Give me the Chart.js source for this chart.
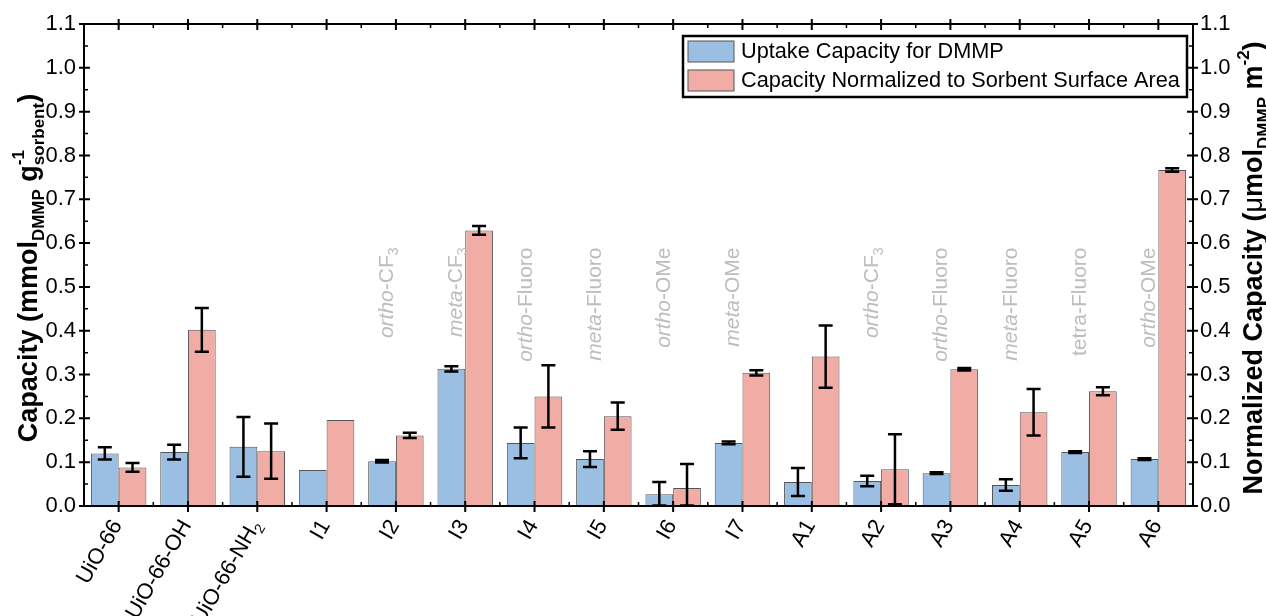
<!DOCTYPE html>
<html>
<head>
<meta charset="utf-8">
<script src="https://cdn.jsdelivr.net/npm/chart.js@4/dist/chart.umd.min.js"></script>
<style>
  body { margin: 0; background: #fff; }
</style>
</head>
<body>
<canvas id="chart" width="1266" height="616"></canvas>
<script>
// sorbents on the x axis
const categories = ['UiO-66', 'UiO-66-OH', 'UiO-66-NH2', 'I1', 'I2', 'I3', 'I4', 'I5', 'I6', 'I7', 'A1', 'A2', 'A3', 'A4', 'A5', 'A6'];

// mmol DMMP / g sorbent (left axis)
const uptake =    [0.120, 0.123, 0.135, 0.082, 0.102, 0.313, 0.144, 0.107, 0.027, 0.144, 0.055, 0.057, 0.075, 0.048, 0.123, 0.107];
const uptakeErr = [0.014, 0.017, 0.068, 0,     0.003, 0.006, 0.035, 0.018, 0.028, 0.003, 0.032, 0.012, 0.002, 0.013, 0.002, 0.002];

// umol DMMP / m2 (right axis)
const normalized =    [0.088, 0.402, 0.125, 0.196, 0.161, 0.629, 0.250, 0.205, 0.041, 0.304, 0.341, 0.084, 0.312, 0.214, 0.262, 0.767];
const normalizedErr = [0.010, 0.050, 0.063, 0,     0.006, 0.010, 0.071, 0.031, 0.055, 0.006, 0.071, 0.080, 0.003, 0.053, 0.009, 0.004];

// grey substituent notes above the bars
const noteIndex =  [4, 5, 6, 7, 8, 9, 11, 12, 13, 14, 15];
const notePrefix = ['ortho', 'meta', 'ortho', 'meta', 'ortho', 'meta', 'ortho', 'ortho', 'meta', 'tetra', 'ortho'];
const noteGroup =  ['-CF', '-CF', '-Fluoro', '-Fluoro', '-OMe', '-OMe', '-CF', '-Fluoro', '-Fluoro', '-Fluoro', '-OMe'];
const noteSub =    ['3', '3', '', '', '', '', '3', '', '', '', ''];

const yTicks = [0, 0.1, 0.2, 0.3, 0.4, 0.5, 0.6, 0.7, 0.8, 0.9, 1.0, 1.1];

const legendLabels = ['Uptake Capacity for DMMP', 'Capacity Normalized to Sorbent Surface Area'];

const BLUE = '#9bbfe3';
const PINK = '#f2aca6';
const FONT = '"Liberation Sans", Arial, sans-serif';

function fontOf(p) {
    return (p.italic ? 'italic ' : '') + (p.bold ? 'bold ' : '') + p.size + 'px ' + FONT;
}

function richWidth(ctx, parts) {
    let w = 0;
    parts.forEach(p => {
        ctx.font = fontOf(p);
        let pw = ctx.measureText(p.t).width;
        if (p.over) pw = Math.max(pw, ctx.measureText(p.over).width);
        w += pw;
    });
    return w;
}

function drawRich(ctx, parts, x, y, angle, align, color) {
    ctx.save();
    ctx.translate(x, y);
    ctx.rotate(angle);
    ctx.fillStyle = color;
    ctx.textAlign = 'left';
    ctx.textBaseline = 'alphabetic';
    const total = richWidth(ctx, parts);
    let cx = align === 'right' ? -total : (align === 'center' ? -total / 2 : 0);
    parts.forEach(p => {
        ctx.font = fontOf(p);
        ctx.fillText(p.t, cx, p.dy || 0);
        let pw = ctx.measureText(p.t).width;
        if (p.over) {
            ctx.fillText(p.over, cx, p.overDy);
            pw = Math.max(pw, ctx.measureText(p.over).width);
        }
        cx += pw;
    });
    ctx.restore();
}

function xLabelParts(label) {
    if (label.endsWith('NH2')) {
        return [{ t: label.slice(0, -1), size: 22 }, { t: '2', size: 14, dy: 5 }];
    }
    return [{ t: label, size: 22 }];
}

const errorBars = {
    id: 'errorBars',
    afterDatasetsDraw(chart) {
        const ctx = chart.ctx;
        const area = chart.chartArea;
        const errs = [uptakeErr, normalizedErr];
        ctx.save();
        ctx.beginPath();
        ctx.rect(area.left, area.top - 2, area.right - area.left, area.bottom - area.top + 4);
        ctx.clip();
        ctx.strokeStyle = '#000';
        ctx.lineWidth = 2.5;
        chart.data.datasets.forEach((ds, di) => {
            const meta = chart.getDatasetMeta(di);
            const scale = chart.scales[ds.yAxisID];
            meta.data.forEach((bar, i) => {
                const e = errs[di][i];
                if (!e) return;
                const v = ds.data[i];
                const top = scale.getPixelForValue(v + e);
                const bot = scale.getPixelForValue(Math.max(v - e, 0.001));
                ctx.beginPath();
                ctx.moveTo(bar.x, top);
                ctx.lineTo(bar.x, bot);
                ctx.moveTo(bar.x - 7, top);
                ctx.lineTo(bar.x + 7, top);
                ctx.moveTo(bar.x - 7, bot);
                ctx.lineTo(bar.x + 7, bot);
                ctx.stroke();
            });
        });
        ctx.restore();
    }
};

const decorations = {
    id: 'decorations',
    afterDraw(chart) {
        const ctx = chart.ctx;
        const a = chart.chartArea;
        const xs = chart.scales.x;
        const ys = chart.scales.y;

        // frame
        ctx.save();
        ctx.strokeStyle = '#000';
        ctx.lineWidth = 2;
        ctx.strokeRect(a.left, a.top, a.right - a.left, a.bottom - a.top);

        // y ticks on both sides
        ctx.lineWidth = 2;
        ctx.beginPath();
        yTicks.forEach(v => {
            const py = ys.getPixelForValue(v);
            ctx.moveTo(a.left - 5, py); ctx.lineTo(a.left + 6, py);
            ctx.moveTo(a.right - 6, py); ctx.lineTo(a.right + 5, py);
        });
        ctx.stroke();
        ctx.lineWidth = 1.5;
        ctx.beginPath();
        for (let k = 0; k < yTicks.length - 1; k++) {
            const py = ys.getPixelForValue((yTicks[k] + yTicks[k + 1]) / 2);
            ctx.moveTo(a.left, py); ctx.lineTo(a.left + 4, py);
            ctx.moveTo(a.right - 4, py); ctx.lineTo(a.right, py);
        }
        ctx.stroke();

        // x ticks, bottom and top
        ctx.lineWidth = 2;
        ctx.beginPath();
        categories.forEach((c, i) => {
            const px = xs.getPixelForValue(i);
            ctx.moveTo(px, a.bottom + 6); ctx.lineTo(px, a.bottom - 5);
            ctx.moveTo(px, a.top - 5); ctx.lineTo(px, a.top + 6);
        });
        ctx.stroke();
        ctx.lineWidth = 1.5;
        ctx.beginPath();
        for (let i = 0; i < categories.length - 1; i++) {
            const px = (xs.getPixelForValue(i) + xs.getPixelForValue(i + 1)) / 2;
            ctx.moveTo(px, a.bottom); ctx.lineTo(px, a.bottom - 4);
            ctx.moveTo(px, a.top); ctx.lineTo(px, a.top + 4);
        }
        ctx.stroke();
        ctx.restore();

        // x labels, rotated 60
        categories.forEach((c, i) => {
            const px = xs.getPixelForValue(i);
            drawRich(ctx, xLabelParts(c), px + 4, a.bottom + 19, -Math.PI / 3, 'right', '#000');
        });

        // substituent notes
        noteIndex.forEach((idx, k) => {
            const px = xs.getPixelForValue(idx);
            const parts = [
                { t: notePrefix[k], size: 21, italic: notePrefix[k] !== 'tetra' },
                { t: noteGroup[k], size: 21 }
            ];
            if (noteSub[k]) parts.push({ t: noteSub[k], size: 14, dy: 5 });
            drawRich(ctx, parts, px - 3, ys.getPixelForValue(0.59), -Math.PI / 2, 'right', '#bdbdbd');
        });

        // axis titles
        const midY = (a.top + a.bottom) / 2 + 3;
        drawRich(ctx, [
            { t: 'Capacity (mmol', size: 27, bold: true },
            { t: 'DMMP', size: 17, bold: true, dy: 7 },
            { t: ' g', size: 27, bold: true },
            { t: 'sorbent', size: 17, bold: true, dy: 7, over: '-1', overDy: -13 },
            { t: ')', size: 27, bold: true }
        ], 37, midY, -Math.PI / 2, 'center', '#000');
        drawRich(ctx, [
            { t: 'Normalized Capacity (', size: 27, bold: true },
            { t: '\u03bc', size: 27 },
            { t: 'mol', size: 27, bold: true },
            { t: 'DMMP', size: 17, bold: true, dy: 7 },
            { t: ' m', size: 27, bold: true },
            { t: '-2', size: 17, bold: true, dy: -13 },
            { t: ')', size: 27, bold: true }
        ], 1262, midY, -Math.PI / 2, 'center', '#000');

        // legend
        const lx = a.right - 510, ly = a.top + 12, lw = 504, lh = 61;
        ctx.save();
        ctx.fillStyle = '#fff';
        ctx.fillRect(lx, ly, lw, lh);
        ctx.strokeStyle = '#000';
        ctx.lineWidth = 2.5;
        ctx.strokeRect(lx, ly, lw, lh);
        const swatch = [BLUE, PINK];
        legendLabels.forEach((txt, k) => {
            const ry = ly + 5 + k * 29;
            ctx.fillStyle = swatch[k];
            ctx.fillRect(lx + 5, ry, 46, 21);
            ctx.strokeStyle = '#555';
            ctx.lineWidth = 1;
            ctx.strokeRect(lx + 5, ry, 46, 21);
            ctx.fillStyle = '#000';
            ctx.font = '21.7px ' + FONT;
            ctx.textBaseline = 'middle';
            ctx.textAlign = 'left';
            ctx.fillText(txt, lx + 58, ry + 11);
        });
        ctx.restore();
    }
};

const ctx = document.getElementById('chart').getContext('2d');

new Chart(ctx, {
    type: 'bar',
    data: {
        labels: categories,
        datasets: [
            {
                label: legendLabels[0],
                data: uptake,
                yAxisID: 'y',
                backgroundColor: BLUE,
                borderColor: '#555',
                borderWidth: 1,
                categoryPercentage: 0.8,
                barPercentage: 1.0
            },
            {
                label: legendLabels[1],
                data: normalized,
                yAxisID: 'y2',
                backgroundColor: PINK,
                borderColor: '#555',
                borderWidth: 1,
                categoryPercentage: 0.8,
                barPercentage: 1.0
            }
        ]
    },
    options: {
        responsive: false,
        animation: false,
        layout: { padding: { top: 24, left: 0, right: 0, bottom: 0 } },
        plugins: { legend: { display: false }, tooltip: { enabled: false } },
        scales: {
            x: {
                offset: true,
                grid: { display: false, drawTicks: false },
                border: { display: false },
                ticks: { display: false },
                afterFit: s => { s.height = 110; }
            },
            y: {
                position: 'left',
                min: 0, max: 1.1,
                grid: { display: false, drawTicks: false },
                border: { display: false },
                ticks: {
                    stepSize: 0.1, padding: 8, color: '#000',
                    font: { size: 22, family: FONT },
                    callback: v => v.toFixed(1)
                },
                afterFit: s => { s.width = 84; }
            },
            y2: {
                position: 'right',
                min: 0, max: 1.1,
                grid: { display: false, drawTicks: false },
                border: { display: false },
                ticks: {
                    stepSize: 0.1, padding: 7, color: '#000',
                    font: { size: 22, family: FONT },
                    callback: v => v.toFixed(1)
                },
                afterFit: s => { s.width = 73; }
            }
        }
    },
    plugins: [errorBars, decorations]
});
</script>
</body>
</html>
